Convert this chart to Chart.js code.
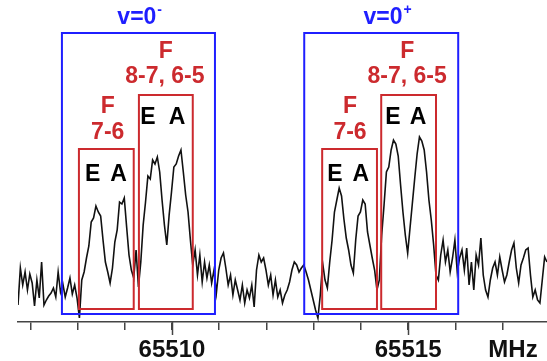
<!DOCTYPE html>
<html lang="en">
<head>
    <meta charset="UTF-8">
    <title>Spectrum v=0- / v=0+</title>
    <script src="https://cdn.jsdelivr.net/npm/chart.js"></script>
    <style>
        html, body { margin: 0; padding: 0; background: #fff; }
        #wrap { width: 547px; height: 361px; position: relative; }
    </style>
</head>
<body>
    <div id="wrap"><canvas id="spectrum"></canvas></div>

    <script>
        // Frequency grid of the recorded trace (MHz)
        const freqStart = 65506.74;
        const freqStep = 0.05;
        // Intensity (arbitrary units)
        const intensity = [
            17, 54, 37, 50, 32, 48, 39, 16, 42, 24, 60, 17, 22, 26, 29, 34, 25, 50, 30, 38,
            25, 34, 44, 28, 37, 24, 4, 42, 50, 64, 76, 100, 104, 116, 110, 106, 82, 60, 50, 39,
            54, 80, 92, 120, 118, 124, 95, 67, 52, 44, 72, 35, 60, 97, 120, 146, 143, 162, 158, 165,
            150, 122, 97, 77, 107, 130, 155, 158, 166, 172, 150, 127, 110, 82, 57, 72, 47, 67, 40, 60,
            44, 57, 39, 52, 29, 52, 64, 69, 54, 37, 47, 27, 42, 32, 22, 37, 19, 32, 24, 37,
            15, 52, 67, 60, 64, 52, 37, 47, 27, 42, 25, 32, 19, 27, 32, 40, 52, 60, 57, 50,
            54, 57, 50, 42, 32, 22, 12, 4, 27, 59, 42, 34, 60, 82, 110, 122, 134, 126, 103, 84,
            72, 57, 49, 82, 106, 110, 122, 118, 90, 77, 64, 52, 32, 42, 87, 117, 150, 155, 172, 182,
            178, 166, 137, 110, 87, 69, 94, 119, 144, 168, 185, 181, 172, 150, 122, 102, 77, 47, 42, 67,
            82, 60, 72, 50, 64, 82, 50, 64, 72, 52, 74, 37, 60, 32, 67, 57, 84, 47, 32, 25,
            42, 54, 60, 47, 65, 52, 40, 47, 60, 72, 79, 54, 39, 57, 64, 72, 74, 47, 25, 32,
            22, 19, 42, 65, 60
        ];
        const tickValues = [65507, 65508, 65509, 65510, 65511, 65512, 65513, 65514, 65515, 65516, 65517];
        const majorTicks = [65510, 65515];
        const unitLabel = 'MHz';

        const FONT = "'Liberation Sans', Arial, sans-serif";
        const BLUE = '#1f1fff';
        const RED = '#cc2a2e';

        // Boxes in data units: [x1, x2, yTop, yBottom]
        const boxes = [
            { c: BLUE, r: [65507.67, 65510.91, 289, 8] },
            { c: BLUE, r: [65512.80, 65516.06, 289, 8] },
            { c: RED, r: [65508.03, 65509.19, 173, 13] },
            { c: RED, r: [65509.30, 65510.44, 227, 13] },
            { c: RED, r: [65513.18, 65514.34, 173, 13] },
            { c: RED, r: [65514.43, 65515.59, 227, 13] }
        ];
        // Labels in data units
        const labels = [
            { t: 'F', x: 65509.87, y: 270, c: RED },
            { t: '8-7, 6-5', x: 65509.85, y: 245, c: RED },
            { t: 'F', x: 65508.64, y: 215, c: RED },
            { t: '7-6', x: 65508.64, y: 189, c: RED },
            { t: 'E', x: 65509.49, y: 204, c: '#000' },
            { t: 'A', x: 65510.11, y: 204, c: '#000' },
            { t: 'E', x: 65508.32, y: 147, c: '#000' },
            { t: 'A', x: 65508.87, y: 147, c: '#000' },
            { t: 'F', x: 65514.98, y: 270, c: RED },
            { t: '8-7, 6-5', x: 65514.98, y: 245, c: RED },
            { t: 'F', x: 65513.77, y: 215, c: RED },
            { t: '7-6', x: 65513.77, y: 189, c: RED },
            { t: 'E', x: 65514.68, y: 204, c: '#000' },
            { t: 'A', x: 65515.21, y: 204, c: '#000' },
            { t: 'E', x: 65513.45, y: 147, c: '#000' },
            { t: 'A', x: 65514.00, y: 147, c: '#000' }
        ];
        const states = [
            { t: 'v=0', sup: '-', x: 65509.32, y: 304 },
            { t: 'v=0', sup: '+', x: 65514.53, y: 304 }
        ];

        const points = intensity.map((v, i) => ({ x: freqStart + i * freqStep, y: v }));

        const overlay = {
            id: 'overlay',
            afterDatasetsDraw(chart) {
                const ctx = chart.ctx;
                const xs = chart.scales.x, ys = chart.scales.y;
                ctx.save();
                // boxes
                ctx.lineWidth = 2;
                boxes.forEach(b => {
                    const x1 = xs.getPixelForValue(b.r[0]), x2 = xs.getPixelForValue(b.r[1]);
                    const y1 = ys.getPixelForValue(b.r[2]), y2 = ys.getPixelForValue(b.r[3]);
                    ctx.strokeStyle = b.c;
                    ctx.strokeRect(x1, y1, x2 - x1, y2 - y1);
                });
                // labels
                ctx.textAlign = 'center';
                ctx.textBaseline = 'middle';
                labels.forEach(l => {
                    ctx.font = 'bold 23px ' + FONT;
                    ctx.fillStyle = l.c;
                    ctx.fillText(l.t, xs.getPixelForValue(l.x), ys.getPixelForValue(l.y));
                });
                states.forEach(s => {
                    ctx.font = 'bold 23px ' + FONT;
                    ctx.fillStyle = BLUE;
                    const px = xs.getPixelForValue(s.x), py = ys.getPixelForValue(s.y);
                    const w = ctx.measureText(s.t).width;
                    ctx.textAlign = 'left';
                    ctx.fillText(s.t, px - w / 2 - 3, py);
                    ctx.font = 'bold 14px ' + FONT;
                    ctx.fillText(s.sup, px + w / 2 - 2, py - 8);
                    ctx.textAlign = 'center';
                });
                // longer major ticks
                const yb = chart.chartArea.bottom;
                ctx.strokeStyle = '#444';
                ctx.lineWidth = 1.5;
                majorTicks.forEach(v => {
                    const px = Math.round(xs.getPixelForValue(v)) + 0.5;
                    ctx.beginPath();
                    ctx.moveTo(px, yb);
                    ctx.lineTo(px, yb + 13);
                    ctx.stroke();
                });
                // unit label
                ctx.font = 'bold 24px ' + FONT;
                ctx.fillStyle = '#111';
                ctx.fillText(unitLabel, xs.getPixelForValue(65517.22), yb + 28);
                ctx.restore();
            }
        };

        new Chart(document.getElementById('spectrum'), {
            type: 'line',
            data: {
                datasets: [{
                    data: points,
                    borderColor: '#111',
                    borderWidth: 1.6,
                    pointRadius: 0,
                    tension: 0,
                    fill: false
                }]
            },
            options: {
                responsive: true,
                maintainAspectRatio: false,
                animation: false,
                layout: { padding: { left: 18, right: 0, top: 0, bottom: 0 } },
                plugins: { legend: { display: false }, tooltip: { enabled: false } },
                scales: {
                    x: {
                        type: 'linear',
                        min: freqStart,
                        max: freqStart + (intensity.length - 1) * freqStep,
                        afterBuildTicks: s => { s.ticks = tickValues.map(v => ({ value: v })); },
                        afterFit: s => { s.height = 39; },
                        grid: { drawOnChartArea: false, tickLength: 8, color: '#444', lineWidth: 1.5 },
                        border: { display: true, color: '#444', width: 1.5 },
                        ticks: {
                            autoSkip: false,
                            maxRotation: 0,
                            padding: 6,
                            color: '#111',
                            font: { family: FONT, size: 24, weight: 'bold' },
                            callback: v => majorTicks.includes(v) ? String(v) : ''
                        }
                    },
                    y: { display: false, min: 0, max: 322 }
                }
            },
            plugins: [overlay]
        });
    </script>
</body>
</html>
